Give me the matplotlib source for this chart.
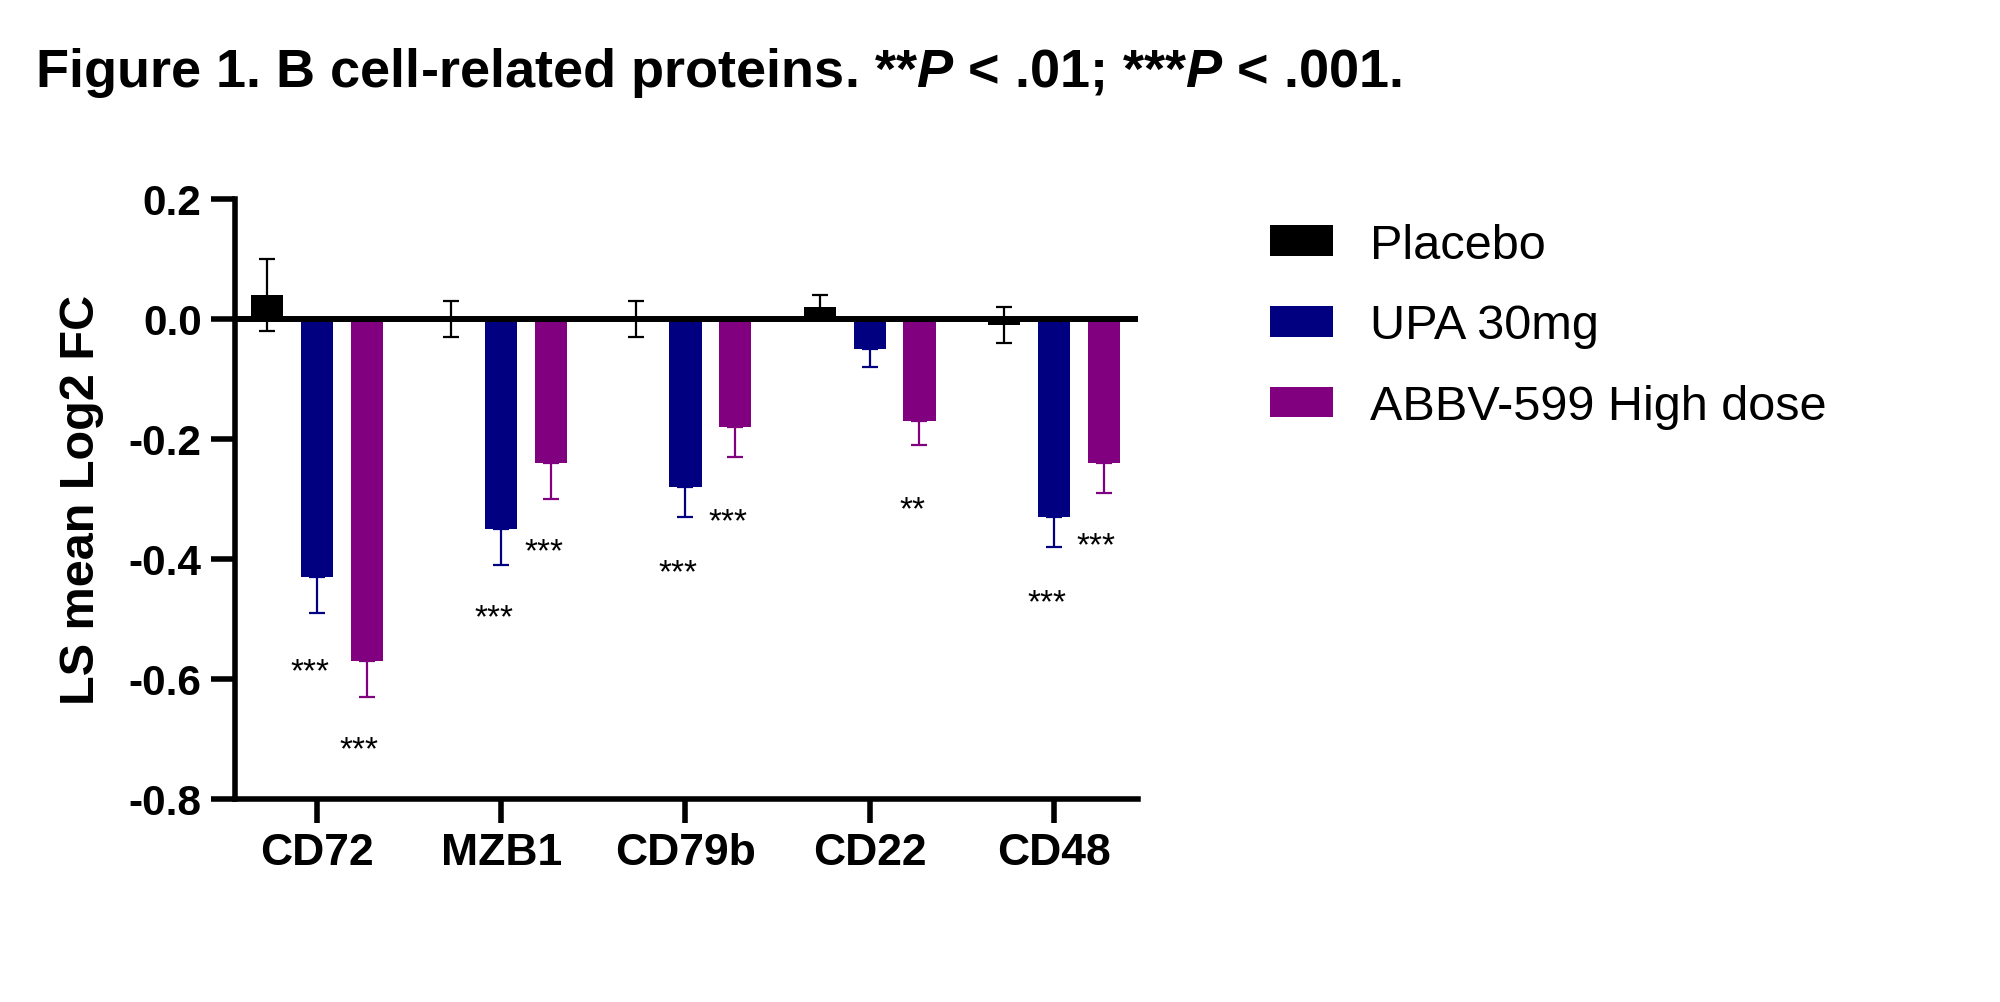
import matplotlib
matplotlib.use("Agg")
import matplotlib.pyplot as plt
import numpy as np

# ---- data ----
categories = ["CD72", "MZB1", "CD79b", "CD22", "CD48"]
series_names = ["Placebo", "UPA 30mg", "ABBV-599 High dose"]
placebo = [0.04, 0.00, 0.00, 0.02, -0.01]
placebo_err = [0.06, 0.03, 0.03, 0.02, 0.03]
upa = [-0.43, -0.35, -0.28, -0.05, -0.33]
upa_err = [0.06, 0.06, 0.05, 0.03, 0.05]
abbv = [-0.57, -0.24, -0.18, -0.17, -0.24]
abbv_err = [0.06, 0.06, 0.05, 0.04, 0.05]
# significance labels (UPA, ABBV) and their vertical positions
upa_sig = ["***", "***", "***", "", "***"]
upa_sig_y = [-0.58, -0.49, -0.415, 0.0, -0.465]
abbv_sig = ["***", "***", "***", "**", "***"]
abbv_sig_y = [-0.71, -0.38, -0.33, -0.31, -0.37]
yticks = [0.2, 0.0, -0.2, -0.4, -0.6, -0.8]
title_text = r"Figure 1. B cell-related proteins. **$P$ < .01; ***$P$ < .001."

colors = ["#000000", "#000080", "#800080"]

plt.rcParams["font.family"] = ["Liberation Sans", "DejaVu Sans"]
plt.rcParams["mathtext.fontset"] = "custom"
plt.rcParams["mathtext.it"] = "Liberation Sans:italic:bold"
plt.rcParams["mathtext.rm"] = "Liberation Sans:bold"
plt.rcParams["mathtext.bf"] = "Liberation Sans:bold"

fig = plt.figure(figsize=(20, 10.03), dpi=100)
ax = fig.add_axes([0.1175, 0.2024, 0.4515, 0.5982])

x = np.arange(len(categories))
w = 0.175
off = 0.27
lw_err = 1.6
cap = 6
ax.bar(x - off, placebo, w, color=colors[0], label=series_names[0], zorder=2)
ax.bar(x, upa, w, color=colors[1], label=series_names[1], zorder=2)
ax.bar(x + off, abbv, w, color=colors[2], label=series_names[2], zorder=2)

ax.errorbar(x - off, placebo, yerr=placebo_err, fmt="none", ecolor=colors[0],
            elinewidth=lw_err, capsize=cap, capthick=lw_err, zorder=3)
ax.errorbar(x, upa, yerr=[upa_err, [0]*len(upa_err)], fmt="none", ecolor=colors[1],
            elinewidth=lw_err, capsize=cap, capthick=lw_err, zorder=1)
ax.errorbar(x + off, abbv, yerr=[abbv_err, [0]*len(abbv_err)], fmt="none", ecolor=colors[2],
            elinewidth=lw_err, capsize=cap, capthick=lw_err, zorder=1)

ax.axhline(0, color="black", lw=4.3, zorder=4)

for i in range(len(categories)):
    if upa_sig[i]:
        ax.annotate(upa_sig[i], xy=(x[i] - 0.04, upa_sig_y[i]), xytext=(0, -9.5),
                    textcoords="offset points", ha="center", va="baseline", fontsize=24)
    if abbv_sig[i]:
        ax.annotate(abbv_sig[i], xy=(x[i] + off - 0.04, abbv_sig_y[i]), xytext=(0, -9.5),
                    textcoords="offset points", ha="center", va="baseline", fontsize=24)

ax.set_xlim(-0.445, 4.456)
ax.set_ylim(-0.8, 0.2)
ax.set_yticks(yticks)
ax.set_yticklabels([f"{v:.1f}" for v in yticks], fontsize=30.5, fontweight="bold")
ax.set_xticks(x)
ax.set_xticklabels(categories, fontsize=32, fontweight="bold")
for s in ["top", "right"]:
    ax.spines[s].set_visible(False)
for s in ["left", "bottom"]:
    ax.spines[s].set_linewidth(4)
ax.tick_params(axis="both", width=4, length=17, pad=7)
ax.set_ylabel("LS mean Log2 FC", fontsize=35, fontweight="bold", labelpad=18)

leg = ax.legend(loc="upper left", bbox_to_anchor=(1.1245, 0.993), frameon=False,
                fontsize=35, handlelength=1.3, handleheight=0.6, handletextpad=0.75,
                labelspacing=0.735, borderaxespad=0)

fig.text(0.0175, 1 - 73 / 1003, title_text, fontsize=39, fontweight="bold",
         ha="left", va="center")

fig.savefig("out.png", dpi=100)
